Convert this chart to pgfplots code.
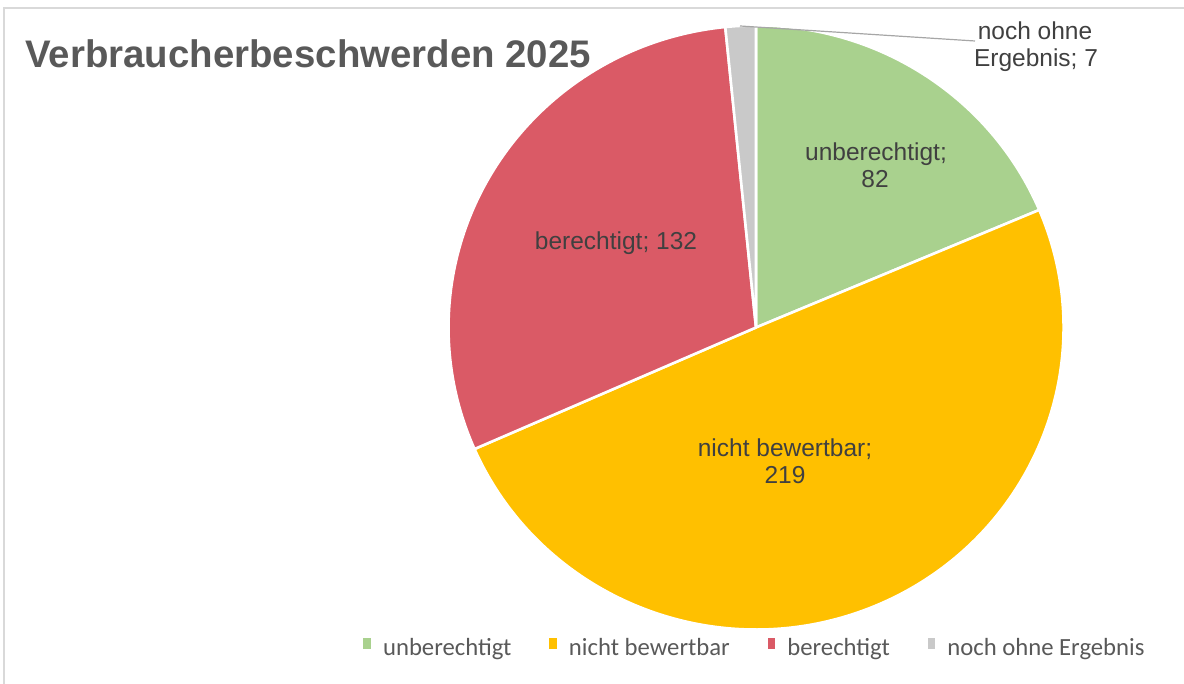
\documentclass[border=0pt]{standalone}
\usepackage{pgfplots}
\pgfplotsset{compat=1.18}
\usepackage{pgfplotstable}
\usepackage{fontspec}
\setmainfont{Liberation Sans}
\newfontfamily\legendfont{Carlito}

\definecolor{cgreen}{HTML}{A9D18E}
\definecolor{cyellow}{HTML}{FFC000}
\definecolor{cred}{HTML}{DA5A66}
\definecolor{cgray}{HTML}{C9C9C9}
\definecolor{ctitle}{HTML}{595959}
\definecolor{clabel}{HTML}{404040}
\definecolor{clegend}{HTML}{595959}
\definecolor{cborder}{HTML}{D9D9D9}
\definecolor{cleader}{HTML}{A6A6A6}

% values: unberechtigt, nicht bewertbar, berechtigt, noch ohne Ergebnis
\pgfplotstableread{
value
82
219
132
7
}\piedata
\pgfplotstablegetelem{0}{value}\of\piedata \let\vA\pgfplotsretval
\pgfplotstablegetelem{1}{value}\of\piedata \let\vB\pgfplotsretval
\pgfplotstablegetelem{2}{value}\of\piedata \let\vC\pgfplotsretval
\pgfplotstablegetelem{3}{value}\of\piedata \let\vD\pgfplotsretval
\pgfmathsetmacro\tot{\vA+\vB+\vC+\vD}
\pgfmathsetmacro\aA{90}
\pgfmathsetmacro\aB{\aA-(\vA/\tot)*360}
\pgfmathsetmacro\aC{\aB-(\vB/\tot)*360}
\pgfmathsetmacro\aD{\aC-(\vC/\tot)*360}
\pgfmathsetmacro\aE{\aD-(\vD/\tot)*360}

\newcommand\slice[3]{%
  \filldraw[fill=#3, draw=white, line width=1.3pt, line join=round]
    (axis cs:756,356.5) -- (axis cs:{756+307.5*cos(#1)},{356.5+302*sin(#1)})
    arc[start angle=#1, end angle=#2, x radius=153.75pt, y radius=151pt] -- cycle;}

\newcommand\lbl{\fontsize{12.25}{14}\selectfont}

\begin{document}
\begin{tikzpicture}
\begin{axis}[
  x=0.5pt, y=0.5pt,
  xmin=0, xmax=1184, ymin=0, ymax=684,
  hide axis, clip=false,
  legend columns=4,
  legend image code/.code={\fill[#1,draw=none] (0pt,-0.3pt) rectangle (3.8pt,5pt);},
  legend style={at={(axis cs:754,36)}, anchor=center, draw=none, fill=none,
    font=\legendfont\fontsize{12.35}{14}\selectfont, text=clegend,
    nodes={inner sep=0pt},
    /tikz/every odd column/.append style={column sep=6pt},
    /tikz/every even column/.append style={column sep=19pt}},
]
\slice{\aA}{\aB}{cgreen}
\slice{\aB}{\aC}{cyellow}
\slice{\aC}{\aD}{cred}
\slice{\aD}{\aE}{cgray}

\draw[cborder, line width=0.75pt] (axis cs:4,0) -- (axis cs:4,676) -- (axis cs:1184,676);

\node[anchor=base west, inner sep=0pt, text=ctitle, font=\bfseries\fontsize{19.2}{22}\selectfont]
  at (axis cs:25,616) {Verbraucherbeschwerden 2025};

\node[anchor=base, inner sep=0pt, text=clabel, font=\lbl] at (axis cs:876,523) {unberechtigt;};
\node[anchor=base, inner sep=0pt, text=clabel, font=\lbl] at (axis cs:875,496) {82};
\node[anchor=base, inner sep=0pt, text=clabel, font=\lbl] at (axis cs:785,227) {nicht bewertbar;};
\node[anchor=base, inner sep=0pt, text=clabel, font=\lbl] at (axis cs:785,200) {219};
\node[anchor=base, inner sep=0pt, text=clabel, font=\lbl] at (axis cs:616,434) {berechtigt; 132};
\node[anchor=base, inner sep=0pt, text=clabel, font=\lbl] at (axis cs:1035,644) {noch ohne};
\node[anchor=base, inner sep=0pt, text=clabel, font=\lbl] at (axis cs:1036,617) {Ergebnis; 7};
\draw[cleader, line width=0.6pt] (axis cs:740,658) -- (axis cs:975,643);

\addlegendimage{fill=cgreen}\addlegendentry{unberechtigt}
\addlegendimage{fill=cyellow}\addlegendentry{nicht bewertbar}
\addlegendimage{fill=cred}\addlegendentry{berechtigt}
\addlegendimage{fill=cgray}\addlegendentry{noch ohne Ergebnis}
\end{axis}
\pgfresetboundingbox
\path[use as bounding box] (0,0) rectangle (592pt,342pt);
\end{tikzpicture}
\end{document}
